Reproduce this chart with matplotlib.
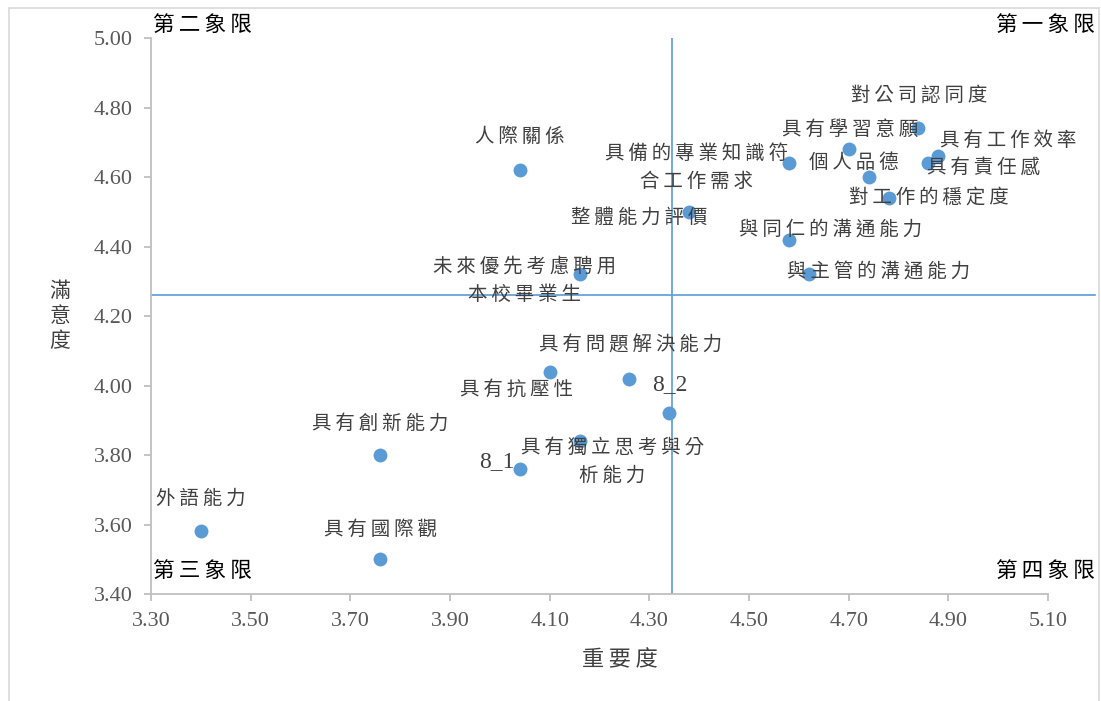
import numpy as np
import matplotlib.pyplot as plt
from matplotlib.patches import Rectangle

plt.rcParams['font.family'] = ['Noto Sans CJK TC', 'DejaVu Sans']

# importance (x) and satisfaction (y) for each item
names = ['外語能力', '具有國際觀', '具有創新能力', '8_1', '具有抗壓性',
         '具有獨立思考與分\n析能力', '具有問題解決能力', '8_2',
         '未來優先考慮聘用\n本校畢業生', '人際關係', '整體能力評價',
         '具備的專業知識符\n合工作需求', '與同仁的溝通能力', '與主管的溝通能力',
         '具有學習意願', '個人品德', '對工作的穩定度', '對公司認同度',
         '具有工作效率', '具有責任感']
importance = [3.40, 3.76, 3.76, 4.04, 4.10, 4.16, 4.26, 4.34, 4.16, 4.04,
              4.38, 4.58, 4.58, 4.62, 4.70, 4.74, 4.78, 4.84, 4.88, 4.86]
satisfaction = [3.58, 3.50, 3.80, 3.76, 4.04, 3.84, 4.02, 3.92, 4.32, 4.62,
                4.50, 4.64, 4.42, 4.32, 4.68, 4.60, 4.54, 4.74, 4.66, 4.64]
mean_x = 4.345
mean_y = 4.26
xticks = np.arange(3.30, 5.11, 0.20)
yticks = np.arange(3.40, 5.01, 0.20)

# label offsets in pixels (dx, dy) from each point
offsets = [(0, 33), (0, 30), (0, 32), (-23, 7), (-33, -18), (33, -20), (1, 34),
           (1, 29), (-55, -6), (0, 34), (-50, -6), (-92, -4), (42, 10), (70, 3),
           (2, 20), (-15, 15), (40, 1), (1, 33), (70, 16), (55, -4)]


def spaced(s):
    # wide letter spacing like the original
    out = []
    for ln in s.split('\n'):
        out.append(ln if ln.isascii() else '\u2009'.join(ln))
    return '\n'.join(out)


fig = plt.figure(figsize=(11.01, 7.01), dpi=100)
ax = fig.add_axes([151/1101, 107/701, 897/1101, 556/701])

blue = '#5B9BD5'
ax.scatter(importance, satisfaction, s=100, color=blue, zorder=3, linewidths=0)
ax.plot([mean_x, mean_x], [3.40, 5.00], color=blue, lw=1.2, zorder=2)
ax.plot([3.30, 5.195], [mean_y, mean_y], color=blue, lw=1.2, zorder=2, clip_on=False)

for n, x, y, (dx, dy) in zip(names, importance, satisfaction, offsets):
    if n.isascii():
        kw = dict(fontsize=17, family='Liberation Serif')
    else:
        kw = dict(fontsize=14)
    ax.annotate(spaced(n), (x, y), xytext=(dx, dy), textcoords='offset pixels',
                ha='center', va='center', color='#404040',
                multialignment='center', linespacing=1.45, zorder=4, **kw)

ax.set_xlim(3.30, 5.10)
ax.set_ylim(3.40, 5.00)
ax.set_xticks(xticks)
ax.set_yticks(yticks)
ax.set_xticklabels(['%.2f' % v for v in xticks], family='Liberation Serif',
                   fontsize=16, color='#595959')
ax.set_yticklabels(['%.2f' % v for v in yticks], family='Liberation Serif',
                   fontsize=16, color='#595959')
for s in ['top', 'right']:
    ax.spines[s].set_visible(False)
for s in ['left', 'bottom']:
    ax.spines[s].set_color('#BFBFBF')
    ax.spines[s].set_linewidth(1.3)
ax.tick_params(direction='out', length=5, color='#BFBFBF', width=1.3, pad=8)
ax.patch.set_alpha(0)

# quadrant names
qkw = dict(fontsize=15.5, color='black')
fig.text(153/1101, 1 - 25/701, spaced('第二象限'), ha='left', va='center', **qkw)
fig.text(1095/1101, 1 - 25/701, spaced('第一象限'), ha='right', va='center', **qkw)
fig.text(153/1101, 1 - 571/701, spaced('第三象限'), ha='left', va='center', **qkw)
fig.text(1095/1101, 1 - 571/701, spaced('第四象限'), ha='right', va='center', **qkw)

fig.text(620/1101, 1 - 660/701, spaced('重要度'), ha='center', va='center',
         fontsize=16, color='#404040')
fig.text(60/1101, 1 - 316/701, '滿\n意\n度', ha='center', va='center',
         fontsize=15, color='#404040', linespacing=1.2)

fig.patches.append(Rectangle((9/1101, -0.01), 1090/1101, 1 - 8/701 + 0.01,
                             transform=fig.transFigure, fill=False,
                             edgecolor='#D9D9D9', lw=1.2))

fig.savefig('out.png', dpi=100)
